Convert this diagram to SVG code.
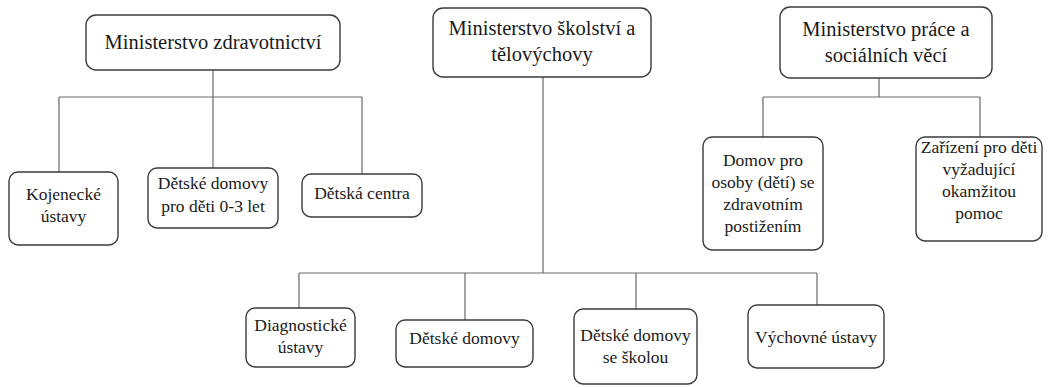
<svg xmlns="http://www.w3.org/2000/svg" width="1048" height="387" viewBox="0 0 1048 387">
<style>
.box{fill:#fff;stroke:#3a3a3a;stroke-width:1.4}
.t{font-family:"Liberation Serif","Times New Roman",serif;font-size:17.5px;fill:#1a1a1a;text-anchor:middle}
.h{font-size:20.5px}
.c{fill:none;stroke:#6a6a6a;stroke-width:1.2}
</style>
<rect width="1048" height="387" fill="#fff"/>
<g id="connectors">
<path class="c" d="M213 70V97M59 97H362M59 97V172M213 97V168M362 97V174"/>
<path class="c" d="M543 77V273M299 273H817M299 273V308M465 273V320M636 273V309M817 273V305"/>
<path class="c" d="M879 78V97M763 97H980M763 97V137M980 97V137"/>
</g>
<g id="mz"><rect class="box" x="86" y="15" width="254" height="55" rx="10"/><text class="t h" x="213" y="49">Ministerstvo zdravotnictví</text></g>
<g id="msmt"><rect class="box" x="433" y="8" width="218" height="69" rx="10"/><text class="t h" x="542" y="35">Ministerstvo školství a</text><text class="t h" x="542" y="61">tělovýchovy</text></g>
<g id="mpsv"><rect class="box" x="780" y="7" width="212" height="71" rx="10"/><text class="t h" x="886" y="36">Ministerstvo práce a</text><text class="t h" x="886" y="62">sociálních věcí</text></g>
<g id="kojenecke"><rect class="box" x="9" y="172" width="109" height="73" rx="9"/><text class="t" x="63.5" y="200">Kojenecké</text><text class="t" x="63.5" y="222">ústavy</text></g>
<g id="dd03"><rect class="box" x="148" y="168" width="130" height="60" rx="9"/><text class="t" x="213" y="189">Dětské domovy</text><text class="t" x="213" y="212">pro děti 0-3 let</text></g>
<g id="dc"><rect class="box" x="302" y="174" width="120" height="43" rx="9"/><text class="t" x="362" y="199">Dětská centra</text></g>
<g id="domov"><rect class="box" x="703" y="137" width="120" height="113" rx="9"/><text class="t" x="763" y="166">Domov pro</text><text class="t" x="763" y="188">osoby (dětí) se</text><text class="t" x="763" y="210">zdravotním</text><text class="t" x="763" y="232">postižením</text></g>
<g id="zarizeni"><rect class="box" x="916" y="137" width="126" height="104" rx="9"/><text class="t" x="979" y="153">Zařízení pro děti</text><text class="t" x="979" y="175">vyžadující</text><text class="t" x="979" y="197">okamžitou</text><text class="t" x="979" y="219">pomoc</text></g>
<g id="diag"><rect class="box" x="246" y="308" width="109" height="59" rx="9"/><text class="t" x="300.5" y="331">Diagnostické</text><text class="t" x="300.5" y="353">ústavy</text></g>
<g id="dd"><rect class="box" x="396" y="320" width="137" height="47" rx="9"/><text class="t" x="464.5" y="344">Dětské domovy</text></g>
<g id="ddss"><rect class="box" x="574" y="309" width="123" height="75" rx="9"/><text class="t" x="635.5" y="341">Dětské domovy</text><text class="t" x="635.5" y="363">se školou</text></g>
<g id="vu"><rect class="box" x="748" y="305" width="136" height="63" rx="9"/><text class="t" x="816" y="343">Výchovné ústavy</text></g>
</svg>
